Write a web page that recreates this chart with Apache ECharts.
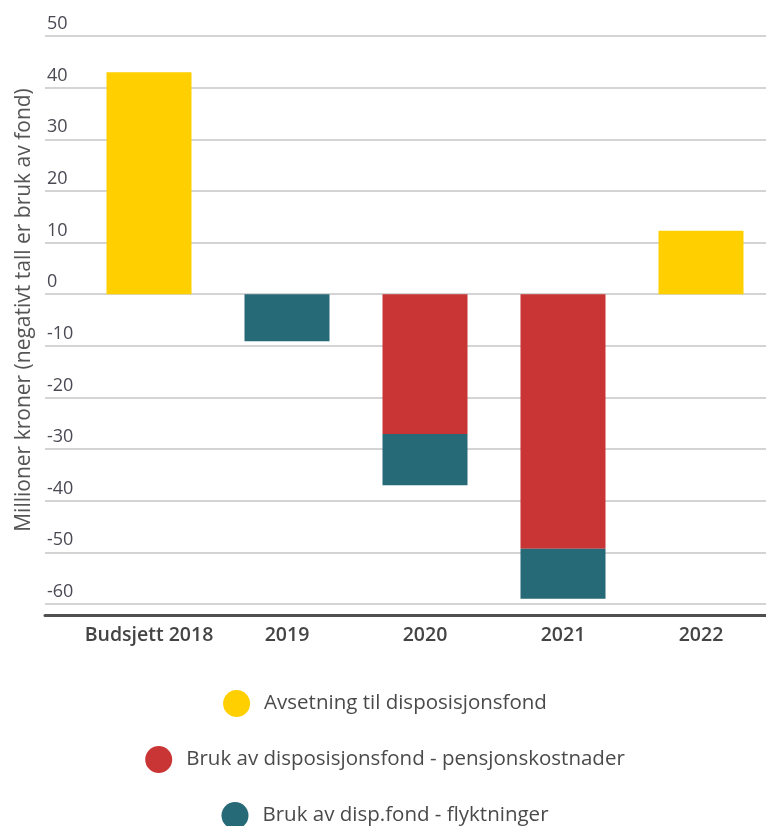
<!DOCTYPE html>
<html>
<head>
<meta charset="utf-8">
<script src="https://cdn.jsdelivr.net/npm/echarts@6/dist/echarts.min.js"></script>
<style>
  html, body { margin: 0; padding: 0; background: #fff; overflow: hidden; }
  #chart { width: 770px; height: 826px; }
</style>
</head>
<body>
<div id="chart"></div>
<script>
// data
const categories = ['Budsjett 2018', '2019', '2020', '2021', '2022'];
const avsetning = [43, '-', '-', '-', 12.3];
const pensjon = ['-', '-', -27.1, -49.3, '-'];
const flyktninger = ['-', -9.1, -9.9, -9.7, '-'];
const seriesNames = [
    'Avsetning til disposisjonsfond',
    'Bruk av disposisjonsfond - pensjonskostnader',
    'Bruk av disp.fond - flyktninger'
];
const colors = ['#ffcf00', '#c93535', '#266977'];

const fontFam = '"Open Sans", "DejaVu Sans", sans-serif';
const myChart = echarts.init(document.getElementById('chart'));

// egen legend per rad, slik at hver linje blir sentrert
const legends = seriesNames.map((name, i) => ({
    data: [name],
    left: 'center',
    top: 690 + i * 56,
    padding: 0,
    icon: 'circle',
    itemWidth: 27,
    itemHeight: 27,
    selectedMode: false,
    textStyle: {
        color: '#4a4a4a',
        fontSize: 20.5,
        fontWeight: 500,
        fontFamily: fontFam,
        padding: [0, 0, 0, 9]
    }
}));

const option = {
    animation: false,
    legend: legends,
    grid: [
        { left: 45, right: 4, top: 36, bottom: 222 },   // rutenett
        { left: 80, width: 690, top: 36, bottom: 222 }  // stolper
    ],
    xAxis: [
        {
            gridIndex: 0,
            type: 'value',
            min: 0,
            max: 1,
            offset: 11,
            axisLine: { show: true, onZero: false, lineStyle: { color: '#505050', width: 3 } },
            axisTick: { show: false },
            axisLabel: { show: false },
            splitLine: { show: false }
        },
        {
            gridIndex: 1,
            type: 'category',
            data: categories,
            offset: 11,
            axisLine: { show: false, onZero: false },
            axisTick: { show: false },
            axisLabel: {
                interval: 0,
                margin: 10,
                color: '#444',
                fontSize: 19.5,
                fontWeight: 600,
                fontFamily: fontFam
            }
        }
    ],
    yAxis: [
        {
            gridIndex: 0,
            type: 'value',
            min: -60,
            max: 50,
            interval: 10,
            name: 'Millioner kroner (negativt tall er bruk av fond)',
            nameLocation: 'middle',
            nameGap: 10,
            nameTextStyle: {
                color: '#555',
                fontSize: 21,
                fontFamily: fontFam,
                padding: [0, 0, 0, 20]
            },
            axisLine: { show: false },
            axisTick: { show: false },
            axisLabel: {
                inside: true,
                margin: 2,
                align: 'left',
                verticalAlign: 'bottom',
                padding: [0, 0, 3, 0],
                color: '#4a4a55',
                fontSize: 18,
                fontWeight: 500,
                fontFamily: fontFam
            },
            splitLine: { show: true, lineStyle: { color: '#d4d4d4', width: 2 } }
        },
        {
            gridIndex: 1,
            type: 'value',
            min: -60,
            max: 50,
            interval: 10,
            show: false,
            splitLine: { show: false }
        }
    ],
    series: [avsetning, pensjon, flyktninger].map((vals, i) => ({
        name: seriesNames[i],
        type: 'bar',
        stack: 'total',
        xAxisIndex: 1,
        yAxisIndex: 1,
        barWidth: 85,
        itemStyle: { color: colors[i] },
        data: vals
    }))
};

myChart.setOption(option);
</script>
</body>
</html>
